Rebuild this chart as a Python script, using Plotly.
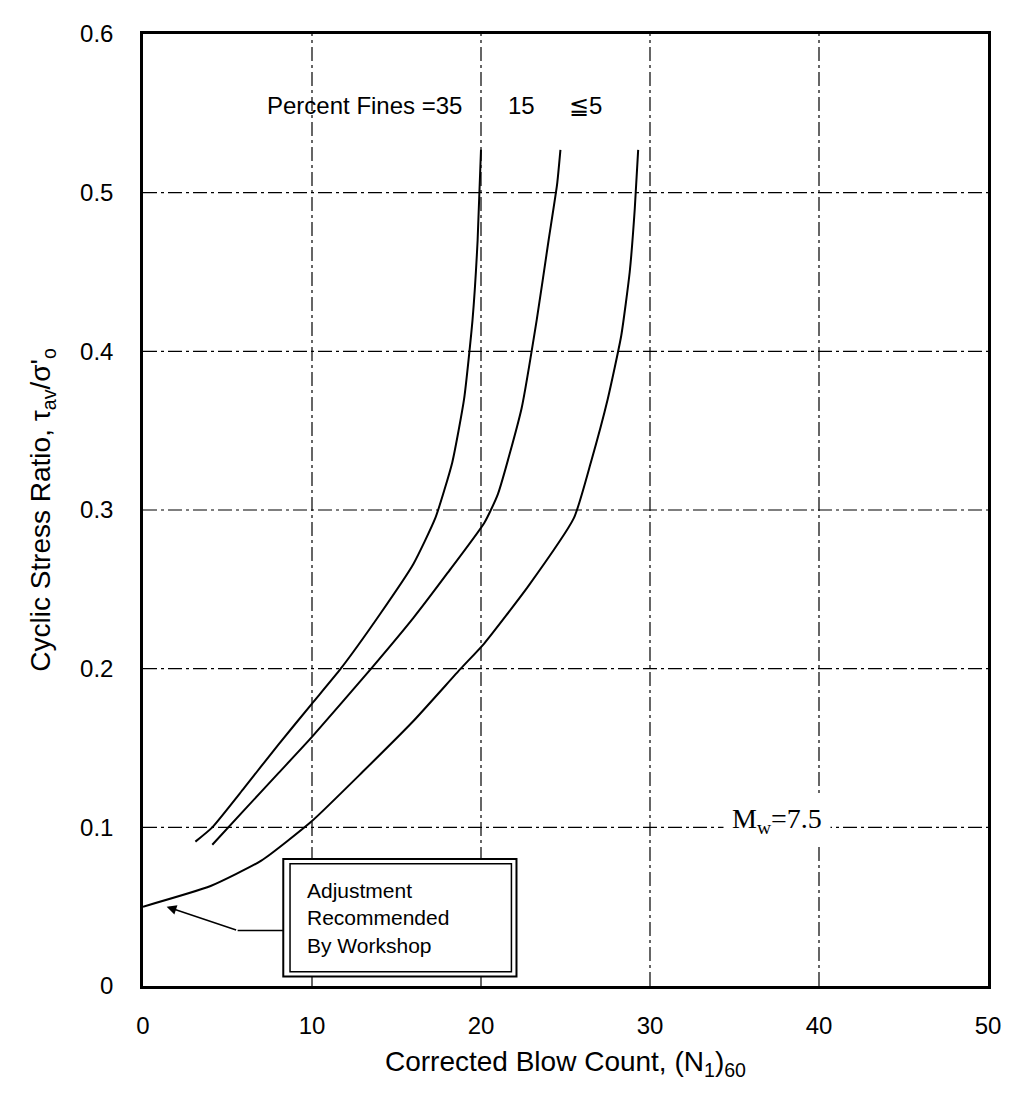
import plotly.graph_objects as go

# curve data: corrected blow count vs cyclic stress ratio
fines_35_n = [3.1, 4.1, 6.0, 8.0, 10.0, 11.7, 14.0, 16.0, 17.3, 18.3, 19.0, 19.5, 19.8, 20.0]
fines_35_csr = [0.091, 0.100, 0.125, 0.152, 0.178, 0.200, 0.234, 0.266, 0.295, 0.330, 0.370, 0.420, 0.470, 0.527]

fines_15_n = [4.1, 6.0, 8.0, 10.0, 13.5, 16.0, 18.0, 20.2, 21.0, 22.4, 23.3, 24.0, 24.5, 24.7]
fines_15_csr = [0.089, 0.111, 0.134, 0.157, 0.200, 0.232, 0.260, 0.292, 0.310, 0.364, 0.420, 0.470, 0.505, 0.527]

fines_5_n = [0.0, 4.0, 7.0, 10.0, 13.0, 16.0, 18.8, 20.2, 22.8, 25.5, 26.5, 27.5, 28.3, 28.8, 29.1, 29.3]
fines_5_csr = [0.050, 0.063, 0.079, 0.104, 0.135, 0.167, 0.200, 0.216, 0.252, 0.295, 0.330, 0.370, 0.410, 0.450, 0.490, 0.527]

x_ticks = [0, 10, 20, 30, 40, 50]
y_ticks = [0, 0.1, 0.2, 0.3, 0.4, 0.5, 0.6]
y_tick_text = ["0", "0.1", "0.2", "0.3", "0.4", "0.5", "0.6"]

sans = "Liberation Sans Narrow, Arial Narrow, Liberation Sans, Arial"

fig = go.Figure()
for xs, ys in [(fines_35_n, fines_35_csr), (fines_15_n, fines_15_csr), (fines_5_n, fines_5_csr)]:
    fig.add_trace(go.Scatter(x=xs, y=ys, mode="lines", line=dict(color="black", width=2, shape="spline", smoothing=0.5),
                             showlegend=False, hoverinfo="skip"))

# grid drawn as dash-dot lines
grid_dash = "14px,4px,3px,4px"
for gx in x_ticks[1:-1]:
    fig.add_shape(type="line", x0=gx, x1=gx, y0=0, y1=0.6, xref="x", yref="y",
                  line=dict(color="black", width=1.2, dash=grid_dash), layer="below")
for gy in y_ticks[1:-1]:
    fig.add_shape(type="line", x0=0, x1=50, y0=gy, y1=gy, xref="x", yref="y",
                  line=dict(color="black", width=1.2, dash=grid_dash), layer="below")

# box with double border
fig.add_shape(type="rect", x0=8.3, x1=22.1, y0=0.006, y1=0.080, line=dict(color="black", width=2),
              fillcolor="white", layer="above")
fig.add_shape(type="rect", x0=8.7, x1=21.8, y0=0.009, y1=0.077, line=dict(color="black", width=1.5), layer="above")
fig.add_annotation(x=9.6, y=0.043, xref="x", yref="y", xanchor="left", align="left", showarrow=False,
                   text="Adjustment<br>Recommended<br>By Workshop",
                   font=dict(family=sans, size=21, color="black"))

# arrow from box to curve start
fig.add_shape(type="line", x0=8.3, x1=5.6, y0=0.035, y1=0.035, line=dict(color="black", width=1.5))
fig.add_annotation(x=1.4, y=0.050, ax=5.6, ay=0.035, xref="x", yref="y", axref="x", ayref="y",
                   showarrow=True, arrowhead=2, arrowsize=1.3, arrowwidth=1.5, arrowcolor="black", text="")

# labels
fig.add_annotation(x=19.0, y=0.555, xanchor="right", showarrow=False, text="Percent Fines =35",
                   font=dict(family=sans, size=24, color="black"))
fig.add_annotation(x=22.4, y=0.555, showarrow=False, text="15",
                   font=dict(family=sans, size=24, color="black"))
fig.add_annotation(x=26.2, y=0.555, showarrow=False, text="≦5",
                   font=dict(family=sans, size=24, color="black"))
fig.add_annotation(x=37.5, y=0.104, showarrow=False, text="M<sub>w</sub>=7.5", bgcolor="white", borderpad=8,
                   font=dict(family="Liberation Serif, Times New Roman, serif", size=28, color="black"))

fig.update_layout(
    width=1013, height=1097,
    margin=dict(l=135, r=33, t=24, b=119),
    plot_bgcolor="white", paper_bgcolor="white",
    font=dict(family=sans, color="black"),
)
fig.update_xaxes(range=[0, 50], tickvals=x_ticks, showgrid=False, zeroline=False,
                 showline=True, mirror=True, linecolor="black", linewidth=2.5,
                 ticks="", ticklabelstandoff=16, tickfont=dict(size=24),
                 title=dict(text="Corrected Blow Count, (N<sub>1</sub>)<sub>60</sub>", font=dict(size=28), standoff=14))
fig.update_yaxes(range=[0, 0.6], tickvals=y_ticks, ticktext=y_tick_text, showgrid=False, zeroline=False,
                 showline=True, mirror=True, linecolor="black", linewidth=2.5,
                 ticks="", ticklabelstandoff=22, tickfont=dict(family="Liberation Sans, Arial", size=24),
                 title=dict(text="Cyclic Stress Ratio, τ<sub>av</sub>/σ'<sub>o</sub>", font=dict(size=28), standoff=22))

fig.write_html("out.html")
